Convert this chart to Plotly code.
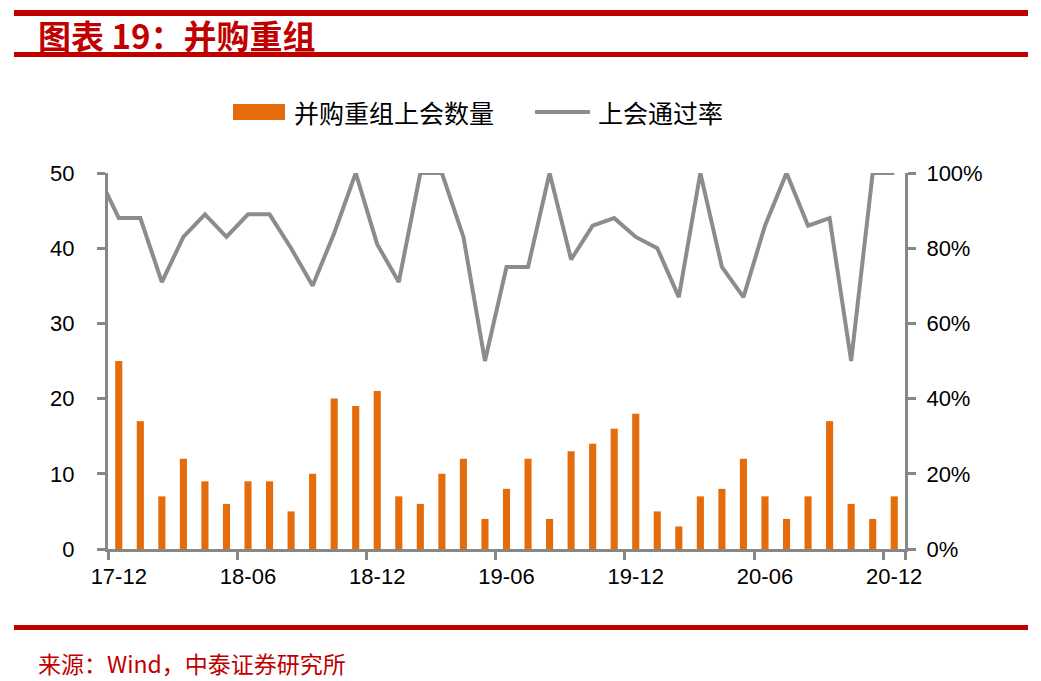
import plotly.graph_objects as go

# months shown on the category axis (17-11 only feeds the clipped start of the line)
months = ["17-11", "17-12",
          "18-01", "18-02", "18-03", "18-04", "18-05", "18-06",
          "18-07", "18-08", "18-09", "18-10", "18-11", "18-12",
          "19-01", "19-02", "19-03", "19-04", "19-05", "19-06",
          "19-07", "19-08", "19-09", "19-10", "19-11", "19-12",
          "20-01", "20-02", "20-03", "20-04", "20-05", "20-06",
          "20-07", "20-08", "20-09", "20-10", "20-11", "20-12"]
bar_months = months[1:]

# 并购重组上会数量
deal_counts = [25, 17, 7, 12, 9, 6, 9, 9, 5, 10, 20, 19, 21,
               7, 6, 10, 12, 4, 8, 12, 4, 13, 14, 16, 18,
               5, 3, 7, 8, 12, 7, 4, 7, 17, 6, 4, 7]

# 上会通过率 (%)
pass_rate = [100, 88, 88, 71, 83, 89, 83, 89, 89, 80, 70, 84, 100, 81,
             71, 100, 100, 83, 50, 75, 75, 100, 77, 86, 88, 83, 80, 67,
             100, 75, 67, 86, 100, 86, 88, 50, 100, 100]

tick_months = ["17-12", "18-06", "18-12", "19-06", "19-12", "20-06", "20-12"]
left_ticks = [0, 10, 20, 30, 40, 50]
right_ticks = [0, 20, 40, 60, 80, 100]

RED = "#C00000"
ORANGE = "#E46C0A"
GREY = "#8C8C8C"
AXIS = "#878787"
CJK = "Noto Sans CJK SC"
TICKFONT = dict(family="Liberation Sans, Arial", size=22, color="#000000")

# the page body adds an 8px margin, so the figure is 8px smaller each way
W, H = 1033, 673
PL, PR, PT, PB = 108, 905, 173, 549   # plot area in page pixels


def px(x):
    return (x - PL) / (PR - PL)


def py(y):
    return (PB - y) / (PB - PT)


fig = go.Figure()

fig.add_trace(go.Bar(
    x=bar_months, y=deal_counts, name="并购重组上会数量",
    marker=dict(color=ORANGE, line=dict(width=0)), width=0.33,
    showlegend=False,
))

fig.add_trace(go.Scatter(
    x=months, y=pass_rate, name="上会通过率", yaxis="y2",
    mode="lines", line=dict(color=GREY, width=4),
    showlegend=False,
))

fig.update_layout(
    width=W, height=H, autosize=False,
    margin=dict(l=PL - 8, r=W - (PR - 8), t=PT - 8, b=H - (PB - 8)),
    paper_bgcolor="white", plot_bgcolor="white",
    xaxis=dict(
        type="category", categoryorder="array", categoryarray=months,
        range=[0.5, len(months) - 0.5],
        tickmode="array", tickvals=tick_months, ticktext=tick_months,
        tickangle=0,
        tickson="boundaries", ticks="outside", ticklen=8, tickwidth=3,
        tickcolor=AXIS, showline=True, linecolor=AXIS, linewidth=3,
        showgrid=False, zeroline=False, tickfont=TICKFONT,
        ticklabelstandoff=6,
    ),
    yaxis=dict(
        range=[0, 50], tickvals=left_ticks, ticks="outside", ticklen=8,
        tickwidth=3, tickcolor=AXIS, showline=True, linecolor=AXIS,
        linewidth=3, showgrid=False, zeroline=False, tickfont=TICKFONT,
        ticklabelstandoff=18,
    ),
    yaxis2=dict(
        range=[0, 100], tickvals=right_ticks,
        ticktext=[f"{v}%" for v in right_ticks],
        overlaying="y", side="right", ticks="outside", ticklen=8,
        tickwidth=3, tickcolor=AXIS, showline=True, linecolor=AXIS,
        linewidth=3, showgrid=False, zeroline=False, tickfont=TICKFONT,
        ticklabelstandoff=6,
    ),
)

# header / footer rules
for y0, y1 in [(10, 16), (52, 57), (625, 630)]:
    fig.add_shape(type="rect", xref="paper", yref="paper",
                  x0=px(14), x1=px(1028), y0=py(y1), y1=py(y0),
                  fillcolor=RED, line=dict(width=0), layer="above")

fig.add_annotation(
    text="<b>图表 19：并购重组</b>", xref="paper", yref="paper",
    x=px(36), y=py(35), xanchor="left", yanchor="middle",
    showarrow=False, font=dict(family=CJK, size=33, color=RED),
)
fig.add_annotation(
    text="来源：Wind，中泰证券研究所", xref="paper", yref="paper",
    x=px(36), y=py(663), xanchor="left", yanchor="middle",
    showarrow=False, font=dict(family=CJK, size=23, color=RED),
)

# legend drawn by hand for the wide swatches
fig.add_shape(type="rect", xref="paper", yref="paper",
              x0=px(233), x1=px(285), y0=py(120), y1=py(104),
              fillcolor=ORANGE, line=dict(width=0))
fig.add_shape(type="line", xref="paper", yref="paper",
              x0=px(535), x1=px(590), y0=py(112), y1=py(112),
              line=dict(color=GREY, width=4))
fig.add_annotation(text="并购重组上会数量", xref="paper", yref="paper",
                   x=px(292), y=py(112), xanchor="left", yanchor="middle",
                   showarrow=False,
                   font=dict(family=CJK, size=25, color="#000000"))
fig.add_annotation(text="上会通过率", xref="paper", yref="paper",
                   x=px(596), y=py(112), xanchor="left", yanchor="middle",
                   showarrow=False,
                   font=dict(family=CJK, size=25, color="#000000"))

fig.write_html("out.html")
